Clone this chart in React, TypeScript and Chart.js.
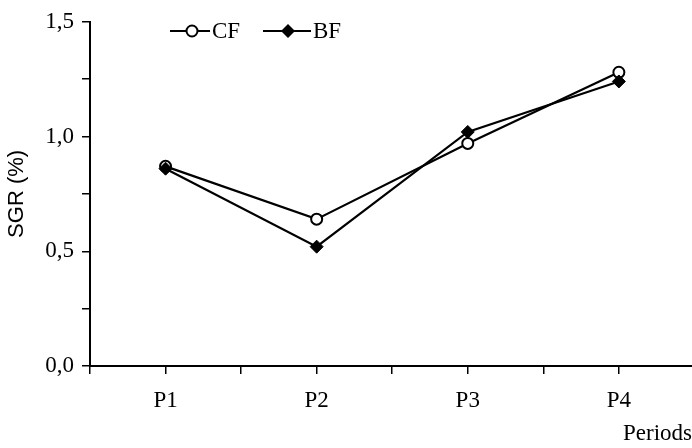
import React, { useEffect, useRef } from "react";
import { Chart, registerables } from "chart.js";

Chart.register(...registerables);

const categories = ["P1", "P2", "P3", "P4"];
const cfValues = [0.87, 0.64, 0.97, 1.28];
const bfValues = [0.86, 0.52, 1.02, 1.24];
const yTickLabels = ["0,0", "0,5", "1,0", "1,5"];
const seriesNames = ["CF", "BF"];

const SERIF = "'Liberation Serif', 'Times New Roman', serif";
const SANS = "'Liberation Sans', Arial, sans-serif";

const legendPlugin = {
  id: "lineLegend",
  afterDraw(chart: any) {
    const ctx = chart.ctx;
    ctx.save();
    const y = 31;
    const items = [
      { x0: 170, xm: 192, x1: 210, tx: 212, name: seriesNames[0], style: "circle" },
      { x0: 263, xm: 288, x1: 311, tx: 313, name: seriesNames[1], style: "diamond" },
    ];
    for (const it of items) {
      ctx.strokeStyle = "#000";
      ctx.lineWidth = 2;
      ctx.beginPath();
      ctx.moveTo(it.x0, y);
      ctx.lineTo(it.x1, y);
      ctx.stroke();
      if (it.style === "circle") {
        ctx.beginPath();
        ctx.arc(it.xm, y, 5.5, 0, Math.PI * 2);
        ctx.fillStyle = "#fff";
        ctx.fill();
        ctx.lineWidth = 2;
        ctx.stroke();
      } else {
        ctx.beginPath();
        ctx.moveTo(it.xm, y - 7);
        ctx.lineTo(it.xm + 7, y);
        ctx.lineTo(it.xm, y + 7);
        ctx.lineTo(it.xm - 7, y);
        ctx.closePath();
        ctx.fillStyle = "#000";
        ctx.fill();
      }
      ctx.fillStyle = "#000";
      ctx.font = `23px ${SERIF}`;
      ctx.textAlign = "left";
      ctx.textBaseline = "middle";
      ctx.fillText(it.name, it.tx, y + 1);
    }
    ctx.restore();
  },
};

export default function App() {
  const ref = useRef<HTMLCanvasElement>(null);
  useEffect(() => {
    document.body.style.margin = "0";
    const canvas = ref.current!;
    const chart = new Chart(canvas, {
      type: "line",
      data: {
        datasets: [
          {
            label: seriesNames[1],
            data: categories.map((_, i) => ({ x: i + 1, y: bfValues[i] })),
            borderColor: "#000",
            borderWidth: 2.2,
            backgroundColor: "#000",
            pointStyle: "rectRot",
            pointRadius: 6.5,
            pointBorderWidth: 1,
            pointBorderColor: "#000",
            pointBackgroundColor: "#000",
            order: 0,
          },
          {
            label: seriesNames[0],
            data: categories.map((_, i) => ({ x: i + 1, y: cfValues[i] })),
            borderColor: "#000",
            borderWidth: 2.2,
            pointStyle: "circle",
            pointRadius: 5.5,
            pointBorderWidth: 2,
            pointBorderColor: "#000",
            pointBackgroundColor: "#fff",
            order: 1,
          },
        ],
      },
      options: {
        animation: false,
        responsive: false,
        layout: { autoPadding: false, padding: { top: 20, right: 0, left: 0, bottom: 0 } },
        plugins: { legend: { display: false }, tooltip: { enabled: false } },
        scales: {
          x: {
            type: "linear",
            min: 0.5,
            max: 4.484,
            afterFit(scale: any) {
              scale.height = 82;
              scale.paddingRight = 0;
              scale.paddingLeft = 0;
            },
            ticks: {
              stepSize: 0.5,
              includeBounds: false,
              autoSkip: false,
              maxRotation: 0,
              padding: 13,
              color: "#000",
              font: { family: SERIF, size: 23 },
              callback: (v: any) => {
                const n = Number(v);
                return Number.isInteger(n) ? categories[n - 1] : "";
              },
            },
            grid: {
              drawOnChartArea: false,
              drawTicks: true,
              tickLength: 8,
              color: "#000",
              lineWidth: 1.5,
            },
            border: { display: true, color: "#000", width: 2 },
            title: {
              display: true,
              text: "Periods",
              align: "end",
              color: "#000",
              font: { family: SERIF, size: 23 },
              padding: { top: 6, bottom: 0 },
            },
          },
          y: {
            min: 0,
            max: 1.5,
            afterFit(scale: any) {
              scale.width = 90;
            },
            ticks: {
              stepSize: 0.25,
              padding: 8,
              color: "#000",
              font: { family: SERIF, size: 23 },
              callback: (v: any) => {
                const n = Number(v);
                const idx = Math.round(n / 0.5);
                return Math.abs(n - idx * 0.5) < 1e-6 ? yTickLabels[idx] : "";
              },
            },
            grid: {
              drawOnChartArea: false,
              drawTicks: true,
              tickLength: 8,
              color: "#000",
              lineWidth: 1.5,
            },
            border: { display: true, color: "#000", width: 2 },
            title: {
              display: true,
              text: "SGR (%)",
              color: "#000",
              font: { family: SANS, size: 22 },
              padding: { top: 4, bottom: 0 },
            },
          },
        },
      },
      plugins: [legendPlugin],
    });
    return () => chart.destroy();
  }, []);
  return <canvas ref={ref} width={692} height={448} style={{ display: "block" }} />;
}
